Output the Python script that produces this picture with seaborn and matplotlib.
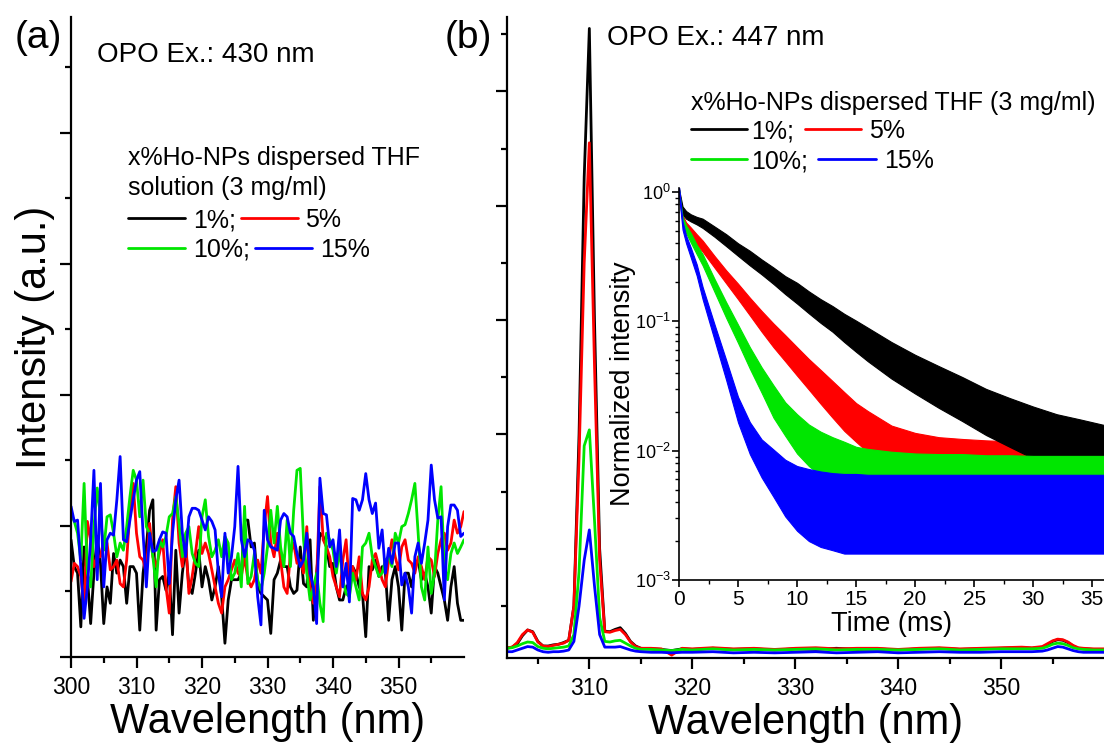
import numpy as np
import matplotlib
matplotlib.use("Agg")
import matplotlib.pyplot as plt
import seaborn as sns
from matplotlib.lines import Line2D
from matplotlib.ticker import MultipleLocator, FixedLocator, LogLocator, NullFormatter

# ---- panel (a): OPO Ex. 430 nm, emission (arb. units) ----
wl_a = np.arange(300, 360.01, 0.5)
a_1 = [1.79, 1.38, 1.28, 0.46, 1.68, 1.23, 0.51, 1.28, 1.84, 1.43, 0.51, 1.07, 0.82, 1.58, 1.28, 1.48,
       1.38, 0.82, 1.38, 1.38, 1.28, 0.41, 1.28, 1.68, 2.24, 2.40, 0.41, 1.18, 1.23, 1.02, 1.28, 0.34,
       1.63, 0.67, 1.28, 1.68, 1.07, 0.97, 1.28, 1.63, 1.07, 1.38, 1.18, 0.87, 1.07, 1.38, 0.92, 0.21,
       0.87, 1.18, 1.18, 1.18, 1.28, 2.09, 2.09, 1.68, 1.74, 1.07, 0.97, 0.92, 0.87, 0.36, 1.18, 1.28,
       1.48, 1.38, 1.38, 1.07, 0.97, 1.02, 1.68, 1.12, 1.07, 1.79, 0.56, 1.28, 1.89, 1.84, 1.68, 1.38,
       1.43, 1.07, 0.87, 0.87, 1.07, 1.12, 1.38, 1.28, 1.07, 0.97, 0.31, 1.38, 1.33, 1.48, 1.23, 1.38,
       1.28, 0.56, 1.18, 1.38, 1.07, 0.41, 1.28, 1.28, 1.07, 1.38, 1.48, 1.18, 1.28, 1.07, 0.67, 1.38,
       1.28, 1.07, 0.87, 0.56, 1.07, 1.38, 0.82, 0.56, 0.56]
a_5 = [1.15, 1.43, 1.38, 1.23, 0.77, 2.07, 1.79, 1.38, 1.53, 1.53, 1.79, 1.74, 1.33, 1.38, 1.48, 1.12,
       1.07, 1.48, 2.24, 2.65, 1.89, 1.53, 1.48, 1.28, 2.04, 1.53, 1.38, 1.58, 1.79, 1.07, 0.67, 2.09,
       2.60, 1.74, 1.38, 1.79, 0.97, 1.23, 1.58, 1.99, 1.58, 1.74, 1.58, 1.33, 1.07, 0.82, 0.67, 1.07,
       1.18, 1.33, 1.48, 1.28, 1.23, 1.53, 1.18, 1.07, 1.18, 1.48, 1.28, 1.99, 2.45, 1.74, 1.53, 1.89,
       1.48, 1.07, 0.97, 1.58, 1.74, 1.43, 1.48, 1.28, 1.99, 1.07, 0.82, 1.18, 2.60, 1.79, 1.68, 1.53,
       1.23, 1.07, 0.92, 1.48, 1.79, 1.07, 1.38, 1.18, 1.53, 0.97, 0.87, 1.07, 1.48, 1.58, 1.38, 1.18,
       1.07, 1.48, 1.79, 1.53, 1.33, 1.68, 1.79, 1.48, 1.43, 1.28, 1.53, 1.38, 1.18, 1.53, 1.48, 1.23,
       1.58, 1.79, 1.89, 1.63, 1.74, 2.09, 1.89, 1.99, 2.22]
a_10 = [2.19, 2.07, 1.89, 1.48, 2.65, 1.28, 1.07, 1.99, 2.58, 2.14, 1.63, 2.14, 2.17, 1.89, 1.53, 1.74,
        1.63, 1.99, 2.45, 2.85, 2.70, 2.14, 2.70, 1.99, 1.89, 1.53, 1.07, 1.79, 1.68, 1.84, 2.14, 2.19,
        2.45, 2.04, 1.53, 1.89, 1.99, 1.58, 1.43, 1.38, 2.14, 2.40, 1.84, 1.53, 1.63, 1.79, 1.53, 1.84,
        1.74, 1.18, 1.28, 1.58, 1.07, 2.30, 1.12, 1.23, 1.58, 1.18, 1.02, 1.28, 1.68, 2.24, 1.74, 2.30,
        1.68, 1.38, 2.09, 1.38, 2.24, 2.85, 2.88, 1.79, 1.28, 0.87, 1.07, 1.28, 0.82, 0.54, 1.89, 1.79,
        1.63, 1.28, 1.63, 1.18, 0.97, 0.92, 1.28, 1.07, 0.87, 1.68, 1.74, 1.89, 1.53, 1.38, 1.23, 1.28,
        1.48, 1.53, 1.38, 1.89, 1.74, 1.99, 2.02, 2.19, 2.40, 2.65, 1.89, 1.07, 0.87, 1.68, 0.97, 1.28,
        2.09, 2.60, 1.38, 1.18, 1.58, 1.74, 1.58, 1.68, 1.79]
a_15 = [2.30, 2.07, 2.09, 1.38, 0.59, 1.07, 1.79, 2.85, 1.18, 2.65, 1.07, 1.79, 1.89, 1.86, 2.40, 3.06,
        1.79, 1.76, 2.09, 2.40, 2.70, 2.83, 1.89, 1.07, 1.89, 1.61, 1.63, 1.79, 1.91, 1.89, 1.12, 1.89,
        2.40, 2.70, 1.89, 1.53, 2.14, 2.27, 2.27, 2.24, 2.09, 1.94, 2.14, 2.07, 1.94, 1.28, 0.92, 1.89,
        1.28, 1.53, 1.99, 2.91, 1.79, 1.53, 1.79, 1.76, 1.63, 0.92, 0.49, 2.24, 1.79, 1.68, 1.66, 1.63,
        2.09, 2.19, 2.14, 1.89, 1.84, 1.58, 1.38, 1.48, 1.89, 1.28, 1.07, 0.51, 2.73, 2.19, 2.17, 1.68,
        1.79, 1.38, 1.94, 1.07, 1.43, 0.84, 2.42, 2.40, 2.24, 2.40, 2.80, 2.40, 2.19, 2.35, 1.66, 1.94,
        1.28, 1.66, 1.43, 1.74, 1.74, 1.10, 1.28, 1.07, 0.67, 1.53, 1.74, 1.43, 1.74, 2.09, 2.93, 2.40,
        2.12, 2.14, 0.87, 1.99, 2.32, 2.32, 2.24, 1.84, 1.89]

# ---- panel (b): OPO Ex. 447 nm ----
wl_b = [302, 302.5, 303, 303.5, 304, 304.5, 305, 305.5, 306, 306.5, 307, 307.5, 308, 308.5, 309,
        309.5, 310, 310.5, 311, 311.5, 312, 312.5, 313, 313.5, 314, 314.5, 315, 316, 317, 318, 319,
        320, 322, 324, 326, 328, 330, 332, 334, 336, 338, 340, 342, 344, 346, 348, 350, 352, 353,
        354, 354.5, 355, 355.5, 356, 356.5, 357, 357.5, 358, 359, 360]
b_1 = [-0.74, -0.72, -0.66, -0.52, -0.42, -0.45, -0.62, -0.70, -0.70, -0.68, -0.67, -0.64, -0.60,
       0.0, 3.0, 7.5, 10.1, 5.0, 1.0, -0.44, -0.45, -0.41, -0.38, -0.48, -0.62, -0.70, -0.74, -0.75,
       -0.76, -0.78, -0.75, -0.76, -0.74, -0.76, -0.75, -0.77, -0.75, -0.76, -0.74, -0.76, -0.75,
       -0.77, -0.75, -0.74, -0.76, -0.75, -0.74, -0.73, -0.74, -0.72, -0.68, -0.62, -0.59, -0.60,
       -0.64, -0.70, -0.74, -0.75, -0.76, -0.76]
b_5 = [-0.73, -0.72, -0.64, -0.50, -0.42, -0.46, -0.63, -0.70, -0.71, -0.69, -0.67, -0.65, -0.60,
       0.0, 2.6, 6.0, 8.1, 4.2, 0.8, -0.45, -0.46, -0.43, -0.41, -0.50, -0.63, -0.71, -0.74, -0.74,
       -0.75, -0.86, -0.74, -0.75, -0.73, -0.75, -0.74, -0.76, -0.74, -0.73, -0.75, -0.74, -0.74,
       -0.76, -0.74, -0.73, -0.75, -0.74, -0.73, -0.72, -0.73, -0.71, -0.66, -0.61, -0.58, -0.59,
       -0.63, -0.69, -0.73, -0.74, -0.75, -0.75]
b_10 = [-0.74, -0.73, -0.70, -0.66, -0.63, -0.64, -0.71, -0.74, -0.75, -0.74, -0.73, -0.72, -0.70,
        -0.50, 0.6, 2.8, 3.08, 1.5, -0.2, -0.62, -0.63, -0.61, -0.60, -0.65, -0.70, -0.74, -0.76,
        -0.76, -0.77, -0.78, -0.76, -0.77, -0.75, -0.77, -0.76, -0.77, -0.76, -0.75, -0.77, -0.76,
        -0.76, -0.77, -0.76, -0.75, -0.77, -0.76, -0.75, -0.75, -0.75, -0.74, -0.71, -0.67, -0.65,
        -0.66, -0.69, -0.73, -0.75, -0.76, -0.77, -0.77]
b_15 = [-0.80, -0.80, -0.77, -0.74, -0.71, -0.72, -0.77, -0.80, -0.81, -0.80, -0.80, -0.79, -0.77,
        -0.62, 0.0, 0.8, 1.33, 0.35, -0.5, -0.72, -0.72, -0.72, -0.71, -0.74, -0.77, -0.79, -0.80,
        -0.81, -0.81, -0.82, -0.81, -0.81, -0.80, -0.82, -0.81, -0.82, -0.81, -0.80, -0.82, -0.81,
        -0.80, -0.82, -0.81, -0.80, -0.81, -0.81, -0.80, -0.80, -0.80, -0.79, -0.77, -0.74, -0.71,
        -0.72, -0.75, -0.78, -0.80, -0.81, -0.81, -0.81]

# ---- inset: decay curves, lower / upper edge of the noisy trace ----
t_ms = [0, 0.3, 0.6, 1, 1.5, 2, 3, 4, 5, 6, 7, 8, 9, 10, 11, 12, 13, 14, 15, 16, 18, 20, 22, 24,
        26, 28, 30, 32, 34, 36.5]
d1_lo = [0.95, 0.67, 0.62, 0.59, 0.56, 0.526, 0.45, 0.38, 0.32, 0.27, 0.23, 0.194, 0.162, 0.137,
         0.115, 0.097, 0.083, 0.069, 0.058, 0.049, 0.036, 0.0276, 0.0214, 0.0169, 0.0132, 0.0107,
         0.0087, 0.0073, 0.0063, 0.0056]
d1_hi = [1.05, 0.77, 0.71, 0.67, 0.64, 0.62, 0.54, 0.47, 0.40, 0.35, 0.30, 0.26, 0.223, 0.198,
         0.17, 0.148, 0.131, 0.114, 0.101, 0.089, 0.069, 0.055, 0.045, 0.037, 0.030, 0.0255,
         0.0219, 0.0191, 0.0174, 0.0154]
d5_lo = [0.95, 0.58, 0.50, 0.45, 0.39, 0.345, 0.26, 0.196, 0.148, 0.111, 0.083, 0.063, 0.049,
         0.038, 0.0296, 0.023, 0.018, 0.0142, 0.0117, 0.0097, 0.0075, 0.0066, 0.0061, 0.0059,
         0.0057, 0.0057, 0.0056, 0.0055, 0.0055, 0.0055]
d5_hi = [1.05, 0.66, 0.58, 0.53, 0.47, 0.42, 0.32, 0.247, 0.195, 0.152, 0.120, 0.096, 0.078,
         0.063, 0.051, 0.042, 0.0345, 0.0283, 0.0233, 0.0202, 0.0156, 0.0137, 0.0127, 0.0123,
         0.0120, 0.0118, 0.0117, 0.0116, 0.0116, 0.0116]
d10_lo = [0.95, 0.56, 0.48, 0.405, 0.33, 0.27, 0.169, 0.106, 0.068, 0.043, 0.028, 0.018, 0.0130,
          0.0095, 0.0076, 0.0064, 0.0054, 0.0049, 0.0044, 0.0042, 0.0040, 0.0039, 0.0038, 0.0038,
          0.0038, 0.0038, 0.0037, 0.0037, 0.0037, 0.0037]
d10_hi = [1.05, 0.64, 0.55, 0.48, 0.39, 0.33, 0.213, 0.140, 0.094, 0.063, 0.044, 0.032, 0.0236,
          0.0191, 0.0159, 0.0140, 0.0127, 0.0117, 0.0107, 0.0103, 0.0098, 0.0095, 0.0094, 0.0094,
          0.0092, 0.0092, 0.0091, 0.0091, 0.0091, 0.0091]
d15_lo = [0.95, 0.51, 0.40, 0.31, 0.225, 0.148, 0.072, 0.035, 0.0165, 0.0094, 0.0062, 0.0044,
          0.0031, 0.0024, 0.0020, 0.0018, 0.0017, 0.0016, 0.0016, 0.0016, 0.0016, 0.0016, 0.0016,
          0.0016, 0.0016, 0.0016, 0.0016, 0.0016, 0.0016, 0.0016]
d15_hi = [1.1, 0.59, 0.46, 0.37, 0.275, 0.184, 0.095, 0.050, 0.026, 0.0166, 0.0122, 0.0102,
          0.0085, 0.0076, 0.0072, 0.0069, 0.0067, 0.0066, 0.0066, 0.0065, 0.0065, 0.0065, 0.0065,
          0.0065, 0.0065, 0.0065, 0.0065, 0.0065, 0.0065, 0.0065]

labels = ["1%", "5%", "10%", "15%"]
colors = {"1%": "#000000", "5%": "#ff0000", "10%": "#00e600", "15%": "#0000ff"}

sns.set_theme(style="ticks")
plt.rcParams["font.family"] = ["Liberation Sans", "DejaVu Sans"]
plt.rcParams["mathtext.default"] = "regular"
for key_ in ["text.color", "axes.labelcolor", "xtick.color", "ytick.color", "axes.edgecolor"]:
    plt.rcParams[key_] = "black"

W, H = 1104, 749
fig = plt.figure(figsize=(W / 100, H / 100), dpi=100)
fig.patch.set_facecolor("white")


def fx(px):
    return px / W


def fy(py):
    return 1 - py / H


def style_axes(ax):
    for side in ["top", "right"]:
        ax.spines[side].set_visible(False)
    for side in ["left", "bottom"]:
        ax.spines[side].set_linewidth(1.6)
        ax.spines[side].set_color("black")
    ax.set_facecolor("none")
    ax.tick_params(which="major", direction="out", length=8, width=1.6, color="black")
    ax.tick_params(which="minor", direction="out", length=4.5, width=1.6, color="black")


# (a)
ax_a = fig.add_axes([fx(71), fy(657), fx(464 - 71), (657 - 17) / H])
for lab, ys in zip(labels, [a_1, a_5, a_10, a_15]):
    sns.lineplot(x=wl_a, y=ys, color=colors[lab], lw=2.0, ax=ax_a, legend=False)
ax_a.set_xlim(300, 360)
ax_a.set_ylim(0, 9.77)
style_axes(ax_a)
ax_a.xaxis.set_major_locator(FixedLocator([300, 310, 320, 330, 340, 350]))
ax_a.xaxis.set_minor_locator(FixedLocator([305, 315, 325, 335, 345, 355]))
ax_a.yaxis.set_major_locator(FixedLocator([0, 2, 4, 6, 8]))
ax_a.yaxis.set_minor_locator(FixedLocator([1, 3, 5, 7, 9]))
ax_a.set_yticklabels([])
ax_a.tick_params(axis="x", labelsize=16.5, pad=6)
ax_a.set_xlabel("Wavelength (nm)", fontsize=30)
ax_a.xaxis.set_label_coords(0.5, -0.07)
ax_a.set_ylabel("Intensity (a.u.)", fontsize=30)
ax_a.yaxis.set_label_coords(-0.04, 0.5)

# (b)
ax_b = fig.add_axes([fx(507), fy(658), fx(1104 - 507), (658 - 17) / H])
for lab, ys in zip(labels, [b_1, b_5, b_10, b_15]):
    sns.lineplot(x=wl_b, y=ys, color=colors[lab], lw=2.0, ax=ax_b, legend=False)
ax_b.set_xlim(302, 360)
ax_b.set_ylim(-0.91, 10.3)
style_axes(ax_b)
ax_b.xaxis.set_major_locator(FixedLocator([310, 320, 330, 340, 350]))
ax_b.xaxis.set_minor_locator(FixedLocator([305, 315, 325, 335, 345, 355]))
ax_b.yaxis.set_major_locator(FixedLocator([1, 3, 5, 7, 9]))
ax_b.yaxis.set_minor_locator(FixedLocator([0, 2, 4, 6, 8, 10]))
ax_b.set_yticklabels([])
ax_b.tick_params(axis="x", labelsize=16.5, pad=6)
ax_b.set_xlabel("Wavelength (nm)", fontsize=30)
ax_b.xaxis.set_label_coords(0.5, -0.07)
ax_b.set_ylabel("")

# inset decay (red under black, as in the reference)
ax_in = fig.add_axes([fx(679), fy(580), fx(1104 - 679), (580 - 188) / H])
bands = {"1%": (d1_lo, d1_hi), "5%": (d5_lo, d5_hi), "10%": (d10_lo, d10_hi), "15%": (d15_lo, d15_hi)}
for lab in ["5%", "1%", "10%", "15%"]:
    lo, hi = bands[lab]
    ax_in.fill_between(t_ms, lo, hi, color=colors[lab], lw=0.8, edgecolor=colors[lab])
ax_in.set_yscale("log")
ax_in.set_xlim(0, 36.0)
ax_in.set_ylim(1e-3, 1.07)
style_axes(ax_in)
ax_in.set_facecolor("white")
ax_in.tick_params(which="major", length=5, width=1.2)
ax_in.tick_params(which="minor", length=3, width=1.0)
ax_in.spines["left"].set_linewidth(1.2)
ax_in.spines["bottom"].set_linewidth(1.2)
ax_in.xaxis.set_major_locator(MultipleLocator(5))
ax_in.xaxis.set_minor_locator(MultipleLocator(2.5))
ax_in.yaxis.set_major_locator(LogLocator(base=10, numticks=10))
ax_in.yaxis.set_minor_locator(LogLocator(base=10, subs=np.arange(2, 10), numticks=10))
ax_in.yaxis.set_minor_formatter(NullFormatter())
ax_in.tick_params(axis="x", labelsize=15, pad=2)
ax_in.tick_params(axis="y", labelsize=13, pad=1)
ax_in.set_xlabel("Time (ms)", fontsize=19.5)
ax_in.xaxis.set_label_coords(0.5, -0.08)
ax_in.set_ylabel("Normalized intensity", fontsize=19.5)
ax_in.yaxis.set_label_coords(-0.1, 0.5)

# panel letters and annotations
fig.text(fx(15), fy(38), "(a)", fontsize=28, va="center", ha="left")
fig.text(fx(445), fy(38), "(b)", fontsize=28, va="center", ha="left")
fig.text(fx(97), fy(62), "OPO Ex.: 430 nm", fontsize=20, va="baseline")
fig.text(fx(607), fy(45), "OPO Ex.: 447 nm", fontsize=20, va="baseline")


def key(x0, x1, y, color):
    fig.add_artist(Line2D([fx(x0), fx(x1)], [fy(y), fy(y)], color=color, lw=2.0,
                          transform=fig.transFigure))


def text(x, y, s, size=18):
    fig.text(fx(x), fy(y), s, fontsize=size, va="baseline", ha="left")


# legend of (a)
text(128, 165, "x%Ho-NPs dispersed THF")
text(128, 195, "solution (3 mg/ml)")
key(128, 185, 218, colors["1%"]); text(193, 227, "1%;")
key(241, 298, 218, colors["5%"]); text(305, 227, "5%")
key(128, 185, 248, colors["10%"]); text(193, 257, "10%;")
key(255, 312, 248, colors["15%"]); text(320, 257, "15%")

# legend of (b)
text(691, 110, "x%Ho-NPs dispersed THF (3 mg/ml)")
key(691, 747, 129, colors["1%"]); text(751, 138, "1%;")
key(805, 861, 129, colors["5%"]); text(869, 138, "5%")
key(691, 747, 159, colors["10%"]); text(751, 168, "10%;")
key(818, 876, 159, colors["15%"]); text(884, 168, "15%")

fig.savefig("out.png", dpi=100, facecolor="white")
